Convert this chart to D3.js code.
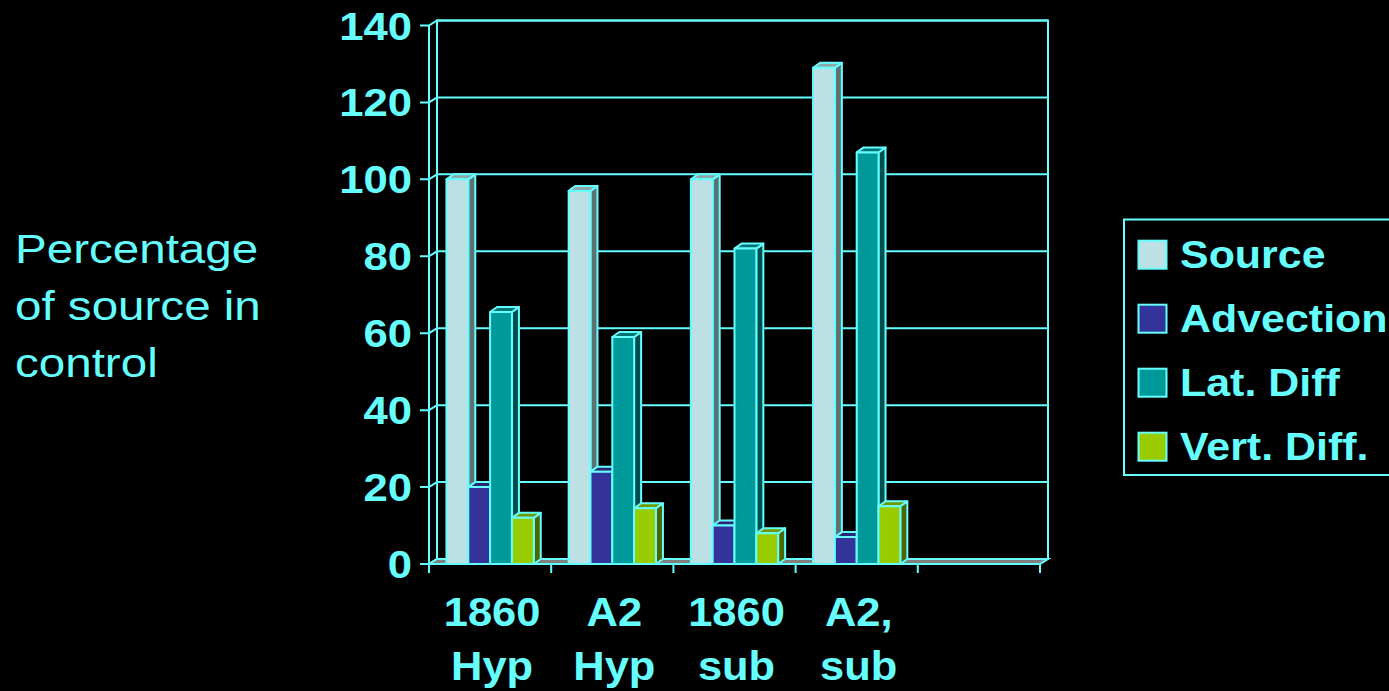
<!DOCTYPE html>
<html>
<head>
<meta charset="utf-8">
<script src="https://cdn.jsdelivr.net/npm/d3@7"></script>
<style>
  html, body { margin: 0; padding: 0; background: #000; }
  svg { display: block; }
  text { font-family: Arial, "Liberation Sans", sans-serif; fill: #66ffff; }
</style>
</head>
<body>
<svg id="chart" width="1389" height="691"></svg>
<script>
// Category slots (the last slot is left empty)
const categories = ["1860 Hyp", "A2 Hyp", "1860 sub", "A2, sub", ""];
const seriesNames = ["Source", "Advection", "Lat. Diff", "Vert. Diff."];
const source    = [100, 97, 100, 129];
const advection = [20, 24, 10, 7];
const latDiff   = [65.5, 59, 82, 107];
const vertDiff  = [12, 14.5, 8, 15];
const tickValues = [0, 20, 40, 60, 80, 100, 120, 140];

const seriesValues = [source, advection, latDiff, vertDiff];
const faceColors = [
  { front: "#bce0e3", side: "#5e7172", top: "#8ea6a8" },
  { front: "#333399", side: "#1a1a4d", top: "#262673" },
  { front: "#009999", side: "#004d4d", top: "#007373" },
  { front: "#99cc00", side: "#4d6600", top: "#739900" }
];
const lineColor = "#66ffff";
const lw = 2;

const svg = d3.select("#chart");

// Plot geometry: front plane plus a shallow depth offset for the 3D look
const x0 = 429, x1 = 1040;
const depthX = 8, depthY = -5;
const barDX = 7, barDY = -5;

const y = d3.scaleLinear().domain([0, 140]).range([564, 25.5]);
const x = d3.scaleBand().domain(categories).range([x0, x1]).padding(0);
const xs = d3.scaleBand().domain(seriesNames).range([0, x.bandwidth()])
  .paddingInner(0).paddingOuter(0.8);

// helper: text with a horizontal stretch
function stretchedText(parent, tx, ty, str, size, weight, anchor, sx) {
  const g = parent.append("g")
    .attr("transform", `translate(${tx},${ty}) scale(${sx},1)`);
  g.append("text")
    .attr("x", 0).attr("y", 0)
    .attr("font-size", size)
    .attr("font-weight", weight)
    .attr("text-anchor", anchor)
    .text(str);
  return g;
}

const pts = arr => arr.map(p => p.join(",")).join(" ");

const walls = svg.append("g").attr("fill", "none").attr("stroke", lineColor).attr("stroke-width", lw);

// back wall
walls.append("rect")
  .attr("x", x0 + depthX).attr("y", y(140) + depthY)
  .attr("width", x1 - x0).attr("height", y(0) - y(140));

// left wall verticals
walls.append("line")
  .attr("x1", x0).attr("x2", x0)
  .attr("y1", y(140)).attr("y2", y(0) + 9);
walls.append("line")
  .attr("x1", x0 + depthX).attr("x2", x0 + depthX)
  .attr("y1", y(140) + depthY).attr("y2", y(0) + depthY);

// gridlines: diagonal on the side wall, horizontal on the back wall, tick on the axis
tickValues.forEach(v => {
  const yy = y(v);
  walls.append("polyline")
    .attr("points", pts([[x0 - 9, yy], [x0, yy], [x0 + depthX, yy + depthY], [x1 + depthX, yy + depthY]]));
});

// floor
svg.append("polygon")
  .attr("points", pts([[x0, y(0)], [x1, y(0)], [x1 + depthX, y(0) + depthY], [x0 + depthX, y(0) + depthY]]))
  .attr("fill", "#808080")
  .attr("stroke", lineColor).attr("stroke-width", lw);

// category tick marks below the floor
const catTicks = categories.map(c => x(c)).concat([x1]);
svg.append("g").selectAll("line").data(catTicks).join("line")
  .attr("x1", d => d).attr("x2", d => d)
  .attr("y1", y(0)).attr("y2", y(0) + 9)
  .attr("stroke", lineColor).attr("stroke-width", lw);

// bars, drawn left to right so each front face covers the previous side face
const bars = [];
categories.forEach((c, ci) => {
  seriesNames.forEach((s, si) => {
    const v = seriesValues[si][ci];
    if (v === undefined) return;
    bars.push({ c, s, si, v });
  });
});

const barG = svg.append("g").attr("stroke", lineColor).attr("stroke-width", lw).attr("stroke-linejoin", "round");
bars.forEach(b => {
  const bx = x(b.c) + xs(b.s);
  const bw = xs.bandwidth();
  const yt = y(b.v), yb = y(0);
  const col = faceColors[b.si];
  const g = barG.append("g");
  // side face
  g.append("polygon")
    .attr("points", pts([[bx + bw, yt], [bx + bw + barDX, yt + barDY], [bx + bw + barDX, yb + barDY], [bx + bw, yb]]))
    .attr("fill", col.side);
  // top face
  g.append("polygon")
    .attr("points", pts([[bx, yt], [bx + barDX, yt + barDY], [bx + bw + barDX, yt + barDY], [bx + bw, yt]]))
    .attr("fill", col.top);
  // front face
  g.append("rect")
    .attr("x", bx).attr("y", yt)
    .attr("width", bw).attr("height", yb - yt)
    .attr("fill", col.front);
});

// value axis labels
const yLabels = svg.append("g");
tickValues.forEach(v => {
  stretchedText(yLabels, 412, y(v) + 14, String(v), 39, "bold", "end", 1.12);
});

// category labels (two lines)
const catLabels = svg.append("g");
categories.forEach(c => {
  if (!c) return;
  const parts = c.split(" ");
  const cx = x(c) + x.bandwidth() / 2 + 2;
  stretchedText(catLabels, cx, 626, parts[0], 41, "bold", "middle", 1.06);
  stretchedText(catLabels, cx, 679.5, parts[1], 41, "bold", "middle", 1.06);
});

// axis title
const titleLines = ["Percentage", "of source in", "control"];
titleLines.forEach((t, i) => {
  stretchedText(svg, 15, 262.7 + i * 57, t, 41, "normal", "start", 1.16);
});

// legend
const legend = svg.append("g");
legend.append("rect")
  .attr("x", 1124).attr("y", 219.5)
  .attr("width", 280).attr("height", 255.5)
  .attr("fill", "none").attr("stroke", lineColor).attr("stroke-width", lw);
seriesNames.forEach((s, i) => {
  const ty = 240.7 + i * 64;
  legend.append("rect")
    .attr("x", 1138.5).attr("y", ty)
    .attr("width", 28).attr("height", 28)
    .attr("fill", faceColors[i].front)
    .attr("stroke", lineColor).attr("stroke-width", lw);
  stretchedText(legend, 1180, ty + 27.5, s, 38, "bold", "start", 1.13);
});
</script>
</body>
</html>
